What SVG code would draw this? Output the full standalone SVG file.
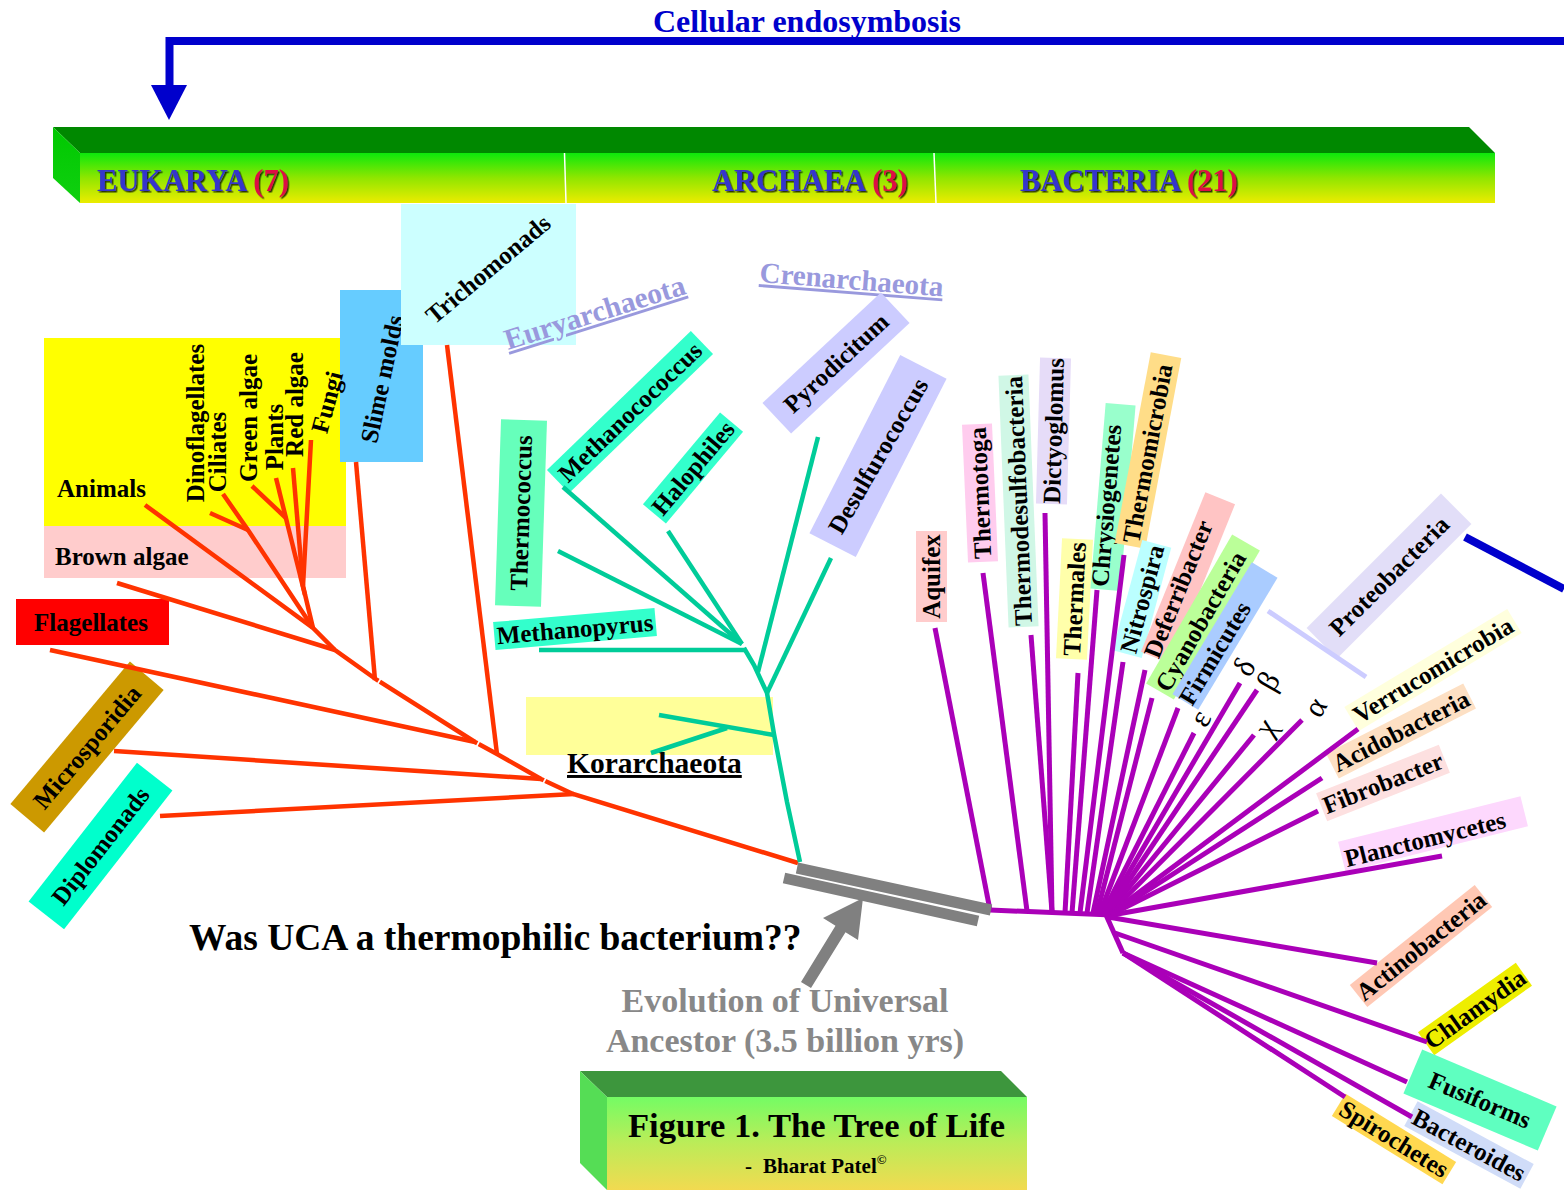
<svg xmlns="http://www.w3.org/2000/svg" width="1564" height="1190" viewBox="0 0 1564 1190">
<style>
.t{font-family:"Liberation Serif","Times New Roman",serif;font-weight:bold;font-size:25px;fill:#000}
.m{text-anchor:middle;dominant-baseline:central}
.dom{font-family:"Liberation Serif","Times New Roman",serif;font-weight:bold;font-size:30.5px;fill:#3535cc}
.num{fill:#dd1144}
.phy{font-family:"Liberation Serif","Times New Roman",serif;font-weight:bold;font-size:29px;fill:#9999dd;text-decoration:underline}
.gr{font-family:"Liberation Serif","Times New Roman",serif;font-size:31px;fill:#000;text-anchor:middle;dominant-baseline:central}
.eu{fill:none;stroke:#ff3300;stroke-width:4.5}
.ar{fill:none;stroke:#00cc99;stroke-width:4.5}
.ba{fill:none;stroke:#aa00b8;stroke-width:5}
.tick{stroke:#fff;stroke-width:1.6}
</style>
<defs>
<linearGradient id="gBan" x1="0" y1="0" x2="0" y2="1">
<stop offset="0" stop-color="#0ce80c"/><stop offset="0.5" stop-color="#90e600"/><stop offset="1" stop-color="#ecec00"/>
</linearGradient>
<linearGradient id="gSide" x1="0" y1="0" x2="0" y2="1">
<stop offset="0" stop-color="#00c800"/><stop offset="1" stop-color="#10d010"/>
</linearGradient>
<linearGradient id="gFig" x1="0" y1="0" x2="0" y2="1">
<stop offset="0" stop-color="#74fc64"/><stop offset="0.5" stop-color="#bcec58"/><stop offset="1" stop-color="#f2da50"/>
</linearGradient>
<filter id="sh" x="-5%" y="-20%" width="110%" height="140%">
<feDropShadow dx="1.5" dy="1.5" stdDeviation="0.4" flood-color="#000" flood-opacity="0.75"/>
</filter>
</defs>

<!-- endosymbiosis arrow -->
<g id="endosymbiosis">
<text x="653" y="32" style="font-family:'Liberation Serif','Times New Roman',serif;font-weight:bold;font-size:32px;fill:#0000cc">Cellular endosymbosis</text>
<path d="M169.5,86 V41 H1564" fill="none" stroke="#0000cc" stroke-width="8"/>
<polygon points="151,85 187,85 169,120" fill="#0000cc"/>
</g>

<!-- banner -->
<g id="banner">
<polygon points="53,127 1469,127 1495,153 80,153" fill="#008800"/>
<polygon points="53,127 80,153 80,203 53,178" fill="url(#gSide)"/>
<rect x="80" y="153" width="1415" height="50" fill="url(#gBan)"/>
<line x1="564.5" y1="153" x2="566" y2="203" stroke="#fff" stroke-width="1.5"/>
<line x1="934" y1="153" x2="936" y2="203" stroke="#fff" stroke-width="1.5"/>
</g>
<g id="d-eukarya"><text x="97" y="191" class="dom" filter="url(#sh)">EUKARYA <tspan class="num">(7)</tspan></text></g>
<g id="d-archaea"><text x="712" y="191" class="dom" filter="url(#sh)">ARCHAEA <tspan class="num">(3)</tspan></text></g>
<g id="d-bacteria"><text x="1020" y="191" class="dom" filter="url(#sh)">BACTERIA <tspan class="num">(21)</tspan></text></g>

<!-- background regions -->
<g id="bg">
<rect x="44" y="338" width="302" height="188" fill="#ffff00"/>
<rect x="526" y="697" width="247" height="58" fill="#ffff99"/>
</g>

<!-- Eukarya nodes -->
<g id="n-brownalgae"><rect x="44" y="526" width="302" height="52" fill="#ffcccc"/><text x="55" y="565" class="t">Brown algae</text></g>
<g id="n-animals"><text x="57" y="497" class="t">Animals</text></g>
<g id="n-slimemolds"><rect x="340" y="290" width="83" height="172" fill="#66ccff"/><text class="t m" transform="translate(382,379) rotate(-78)">Slime molds</text></g>
<g id="n-dinoflagellates"><text class="t m" transform="translate(195,423) rotate(-90)">Dinoflagellates</text></g>
<g id="n-ciliates"><text class="t m" transform="translate(217.5,452) rotate(-90)">Ciliates</text></g>
<g id="n-greenalgae"><text class="t m" transform="translate(248,418) rotate(-90)">Green algae</text></g>
<g id="n-plants"><text class="t m" transform="translate(274,437) rotate(-90)">Plants</text></g>
<g id="n-redalgae"><text class="t m" transform="translate(294.5,404.5) rotate(-90)">Red algae</text></g>
<g id="n-fungi"><text class="t m" transform="translate(327,402) rotate(-75)">Fungi</text></g>
<g id="n-trichomonads"><rect x="401" y="204" width="175" height="141" fill="#ccffff"/><text class="t m" transform="translate(488,269) rotate(-40)">Trichomonads</text></g>
<g id="n-flagellates"><rect x="16" y="599" width="153" height="46" fill="#ff0000"/><text x="91" y="631" class="t" text-anchor="middle">Flagellates</text></g>
<g id="n-microsporidia" transform="translate(87,747) rotate(-50)"><rect x="-93" y="-22" width="186" height="44" fill="#cc9900"/><text class="t m">Microsporidia</text></g>
<g id="n-diplomonads" transform="translate(100.5,846) rotate(-52)"><rect x="-88" y="-22.5" width="176" height="45" fill="#00ffcc"/><text class="t m">Diplomonads</text></g>

<!-- Archaea nodes -->
<g id="n-euryarchaeota"><text class="phy" transform="translate(508,350) rotate(-17.5)" style="font-size:29.5px">Euryarchaeota</text></g>
<g id="n-crenarchaeota"><text class="phy" transform="translate(759,282) rotate(4.5)">Crenarchaeota</text></g>
<g id="n-thermococcus" transform="translate(521,513) rotate(1.85)"><rect x="-23" y="-93" width="46" height="186" fill="#66ffbb"/><text class="t m" transform="rotate(-90)">Thermococcus</text></g>
<g id="n-methanocococcus" transform="translate(630,412) rotate(-44)"><rect x="-100" y="-16" width="200" height="32" fill="#33ffcc"/><text class="t m">Methanocococcus</text></g>
<g id="n-halophiles" transform="translate(693,468) rotate(-50)"><rect x="-60" y="-15" width="120" height="30" fill="#33ffcc"/><text class="t m">Halophiles</text></g>
<g id="n-methanopyrus" transform="translate(575,629) rotate(-5)"><rect x="-81" y="-14" width="162" height="28" fill="#33ffcc"/><text class="t m">Methanopyrus</text></g>
<g id="n-pyrodicitum" transform="translate(836,363) rotate(-43)"><rect x="-81" y="-21" width="162" height="42" fill="#ccccff"/><text class="t m">Pyrodicitum</text></g>
<g id="n-desulfurococcus" transform="translate(878,456) rotate(-63)"><rect x="-100" y="-26" width="200" height="52" fill="#ccccff"/><text class="t m" transform="rotate(3)">Desulfurococcus</text></g>
<g id="n-korarchaeota"><text x="567" y="773" class="t" style="font-size:29.5px;text-decoration:underline">Korarchaeota</text></g>

<!-- Bacteria nodes -->
<g id="n-aquifex" transform="translate(931.5,576.5)"><rect x="-15.5" y="-45.5" width="31" height="91" fill="#ffcccc"/><text class="t m" transform="rotate(-90)">Aquifex</text></g>
<g id="n-thermotoga" transform="translate(980,493) rotate(-2.5)"><rect x="-15" y="-69" width="30" height="138" fill="#ffccee"/><text class="t m" transform="rotate(-90)">Thermotoga</text></g>
<g id="n-thermodesulfobacteria" transform="translate(1018.5,501) rotate(-2.3)"><rect x="-15" y="-126" width="30" height="252" fill="#d0f7e6"/><text class="t m" transform="rotate(-90)">Thermodesulfobacteria</text></g>
<g id="n-dictyoglomus" transform="translate(1053.5,431) rotate(1.6)"><rect x="-15.5" y="-73" width="31" height="146" fill="#e6dcf8"/><text class="t m" transform="rotate(-90)">Dictyoglomus</text></g>
<g id="n-thermales" transform="translate(1074.5,599) rotate(2.9)"><rect x="-15.5" y="-60" width="31" height="120" fill="#ffffaa"/><text class="t m" transform="rotate(-90)">Thermales</text></g>
<g id="n-chrysiogenetes" transform="translate(1113,497) rotate(4.7)"><rect x="-15" y="-93" width="30" height="186" fill="#99ffcc"/><text class="t m" transform="translate(-6,9) rotate(-90)">Chrysiogenetes</text></g>
<g id="n-thermomicrobia" transform="translate(1148,450.5) rotate(10.7)"><rect x="-15.5" y="-97" width="31" height="194" fill="#ffdd88"/><text class="t m" transform="translate(0,3) rotate(-90)">Thermomicrobia</text></g>
<g id="n-nitrospira" transform="translate(1142,599) rotate(15)"><rect x="-15" y="-57" width="30" height="114" fill="#bbffff"/><text class="t m" transform="rotate(-90)">Nitrospira</text></g>
<g id="n-deferribacter" transform="translate(1188,578) rotate(22)"><rect x="-16" y="-86" width="32" height="172" fill="#ffc4c4"/><text class="t m" transform="translate(-5,14) rotate(-90)">Deferribacter</text></g>
<g id="n-cyanobacteria" transform="translate(1203,617) rotate(30)"><rect x="-16" y="-86" width="32" height="172" fill="#bbff99"/><text class="t m" transform="translate(0,5) rotate(-90)">Cyanobacteria</text></g>
<g id="n-firmicutes" transform="translate(1225,636) rotate(31)"><rect x="-15" y="-77" width="30" height="154" fill="#aaccff"/><text class="t m" transform="translate(0,20) rotate(-90)">Firmicutes</text></g>
<g id="n-proteobacteria" transform="translate(1389,576) rotate(-45)"><rect x="-95" y="-21.5" width="190" height="43" fill="#e2def8"/><text class="t m">Proteobacteria</text></g>
<g id="n-verrucomicrobia" transform="translate(1433,670) rotate(-31)"><rect x="-95" y="-14" width="190" height="28" fill="#ffffdd"/><text class="t m">Verrucomicrobia</text></g>
<g id="n-acidobacteria" transform="translate(1401,731) rotate(-27)"><rect x="-77" y="-14" width="154" height="28" fill="#fde0c4"/><text class="t m">Acidobacteria</text></g>
<g id="n-fibrobacter" transform="translate(1383,783) rotate(-21.6)"><rect x="-66" y="-15" width="132" height="30" fill="#fde0e0"/><text class="t m">Fibrobacter</text></g>
<g id="n-planctomycetes" transform="translate(1433,834) rotate(-14)"><rect x="-94" y="-15.5" width="188" height="31" fill="#fdd8fd"/><text class="t m" x="-9" y="3">Planctomycetes</text></g>
<g id="n-actinobacteria" transform="translate(1421,946) rotate(-38.7)"><rect x="-80" y="-14" width="160" height="28" fill="#ffc8b4"/><text class="t m">Actinobacteria</text></g>
<g id="n-chlamydia" transform="translate(1475,1009) rotate(-35.4)"><rect x="-60" y="-14" width="120" height="28" fill="#eeee00"/><text class="t m">Chlamydia</text></g>
<g id="n-fusiforms" transform="translate(1480,1100) rotate(23)"><rect x="-73" y="-24" width="146" height="48" fill="#5fffc0"/><text class="t m">Fusiforms</text></g>
<g id="n-bacteroides" transform="translate(1469,1145) rotate(28.4)"><rect x="-66" y="-14" width="132" height="28" fill="#d0dcf8"/><text class="t m">Bacteroides</text></g>
<g id="n-spirochetes" transform="translate(1394,1139) rotate(31.7)"><rect x="-65" y="-13" width="130" height="26" fill="#ffd850"/><text class="t m">Spirochetes</text></g>
<g id="n-delta"><text class="gr" transform="translate(1244,667) rotate(-60)">δ</text></g>
<g id="n-beta"><text class="gr" transform="translate(1268,681) rotate(-60)">β</text></g>
<g id="n-epsilon"><text class="gr" transform="translate(1200,718) rotate(-60)">ε</text></g>
<g id="n-chi"><text class="gr" transform="translate(1265,727) rotate(-60)">χ</text></g>
<g id="n-alpha"><text class="gr" transform="translate(1315,707) rotate(-60)">α</text></g>

<!-- connectors -->
<g id="connectors">
<path class="eu" d="M798,863 L573,794 L541,779 L497,754 L475,742 L377,680 L335,650 L313,628 L145,505"/>
<path class="eu" d="M160,816 L574,794"/>
<path class="eu" d="M114,751 L541,779"/>
<path class="eu" d="M50,650 L475,742"/>
<path class="eu" d="M117,583 L335,650"/>
<path class="eu" d="M356,462 L375,680"/>
<path class="eu" d="M447,345 L497,754"/>
<path class="eu" d="M313,628 L303,586 L311,440"/>
<path class="eu" d="M303,586 L293,468"/>
<path class="eu" d="M305,595 L276,478"/>
<path class="eu" d="M252,486 L286,518"/>
<path class="eu" d="M313,628 L248,530 L223,494"/>
<path class="eu" d="M248,530 L210,513"/>
<line class="tick" x1="377.5" y1="684" x2="382" y2="676.5"/>
<line class="tick" x1="476.5" y1="746.5" x2="480.5" y2="739"/>
<line class="tick" x1="543" y1="783.5" x2="547" y2="776"/>

<path class="ar" d="M800,862 L787,802 L774,734 L767,693 L754,665 L744,648"/>
<path class="ar" d="M539,650 L746,650"/>
<path class="ar" d="M558,551 L742,644"/>
<path class="ar" d="M563,487 L742,644"/>
<path class="ar" d="M668,531 L742,644"/>
<path class="ar" d="M818,437 L758,672"/>
<path class="ar" d="M831,558 L767,693"/>
<path class="ar" d="M659,715 L774,735"/>
<path class="ar" d="M651,753 L727,728"/>

<path class="ba" d="M990,910 L1112,915"/>
<path class="ba" d="M935,628 L990,910"/>
<path class="ba" d="M983,573 L1027,911"/>
<path class="ba" d="M1031,635 L1052,912"/>
<path class="ba" d="M1045,513 L1052,912"/>
<path class="ba" d="M1078,673 L1065,913"/>
<path class="ba" d="M1097,590 L1072,913"/>
<path class="ba" d="M1124,555 L1080,913"/>
<path class="ba" d="M1123,662 L1087,913"/>
<path class="ba" d="M1145,670 L1093,913"/>
<path class="ba" d="M1152,698 L1097,913"/>
<path class="ba" d="M1178,708 L1100,913"/>
<path class="ba" d="M1194,733 L1103,913"/>
<path class="ba" d="M1240,683 L1105,913"/>
<path class="ba" d="M1257,690 L1107,913"/>
<path class="ba" d="M1254,735 L1108,913"/>
<path class="ba" d="M1302,720 L1110,913"/>
<path class="ba" d="M1358,729 L1110,914"/>
<path class="ba" d="M1322,778 L1111,914"/>
<path class="ba" d="M1318,811 L1112,914"/>
<path class="ba" d="M1442,856 L1112,915"/>
<path class="ba" d="M1106,915 L1123,953"/>
<path class="ba" d="M1108,917 L1377,963"/>
<path class="ba" d="M1115,933 L1427,1042"/>
<path class="ba" d="M1123,953 L1407,1082"/>
<path class="ba" d="M1123,953 L1412,1117"/>
<path class="ba" d="M1123,953 L1345,1097"/>
<path d="M1268,611 L1366,677" fill="none" stroke="#ccccff" stroke-width="5"/>
<path d="M1465,537 L1564,589" fill="none" stroke="#0000cc" stroke-width="8"/>
</g>

<!-- universal ancestor -->
<g id="uca">
<line x1="797" y1="868" x2="991" y2="910" stroke="#808080" stroke-width="11"/>
<line x1="784" y1="878" x2="978" y2="921" stroke="#808080" stroke-width="11"/>
<polygon points="801,982 835.5,925.7 823,918 863,898 858,940 845.5,932.3 811,988" fill="#808080"/>
</g>
<g id="n-question"><text x="189" y="950" class="t" style="font-size:37.5px">Was UCA a thermophilic bacterium??</text></g>
<g id="n-evolution">
<text x="785" y="1012" class="t" text-anchor="middle" style="font-size:34px;fill:#888888">Evolution of Universal</text>
<text x="785" y="1052" class="t" text-anchor="middle" style="font-size:34px;fill:#888888">Ancestor (3.5 billion yrs)</text>
</g>

<!-- figure caption box -->
<g id="caption">
<polygon points="580,1071 1001,1071 1027,1097 607,1097" fill="#3d963d"/>
<polygon points="580,1071 607,1097 607,1190 580,1163" fill="#55dd55"/>
<rect x="607" y="1097" width="420" height="93" fill="url(#gFig)"/>
<text x="628" y="1137" class="t" style="font-size:34.6px">Figure 1. The Tree of Life</text>
<text x="745" y="1173" class="t" style="font-size:21px">- <tspan x="763">Bharat Patel</tspan><tspan style="font-size:13px" dy="-9">©</tspan></text>
</g>
</svg>
